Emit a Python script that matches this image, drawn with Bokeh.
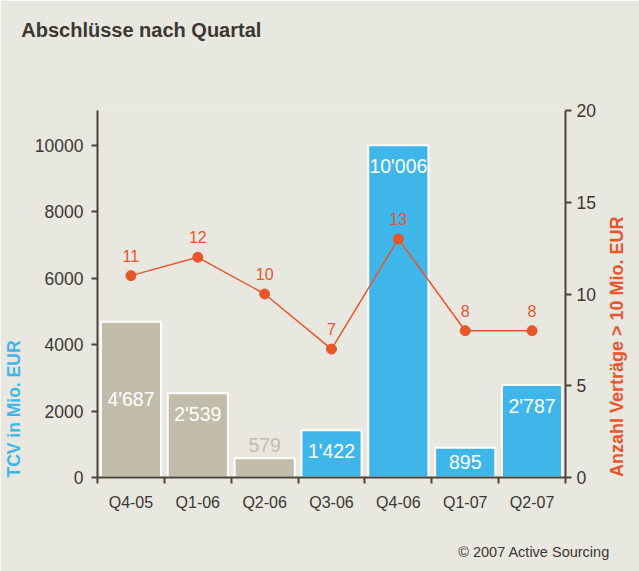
import numpy as np
from bokeh.plotting import figure
from bokeh.models import (Range1d, LinearAxis, FixedTicker, ColumnDataSource)
from bokeh.core.properties import value
from bokeh.embed import file_html
from bokeh.resources import INLINE

# ---- data ----
quarters = ["Q4-05", "Q1-06", "Q2-06", "Q3-06", "Q4-06", "Q1-07", "Q2-07"]
tcv = [4687, 2539, 579, 1422, 10006, 895, 2787]
contracts = [11, 12, 10, 7, 13, 8, 8]
left_ticks = [0, 2000, 4000, 6000, 8000, 10000]
right_ticks = [0, 5, 10, 15, 20]
title = "Abschlüsse nach Quartal"
left_label = "TCV in Mio. EUR"
right_label = "Anzahl Verträge > 10 Mio. EUR"
credit = "© 2007 Active Sourcing"

# ---- styles ----
BG = "#E8E7E0"
GRAY = "#C2BDAA"
BLUE = "#3FB6EA"
ORANGE = "#E9552A"
AXIS = "#4A4338"
TEXT = "#3B3832"
FONT = "Liberation Sans"
bar_colors = [GRAY, GRAY, GRAY, BLUE, BLUE, BLUE, BLUE]
bar_label_colors = ["white", "white", GRAY, "white", "white", "white", "white"]
bar_label_offsets = [77, 21, -13, 21, 21, 14, 21]  # px below bar top

n = len(quarters)
xc = np.arange(n) + 0.5
Y_MAX = 11050

W, H = 639, 571
FL, FR, FT, FB = 97, 567, 110, 477  # frame edges in pixels


def px_to_x(px):
    return (px - FL) / (FR - FL) * n


def px_to_y(py, top):
    return (FB - py) / (FB - FT) * top


p = figure(width=W, height=H, output_backend="svg", toolbar_location=None,
           x_range=Range1d(0, n), y_range=Range1d(0, Y_MAX),
           min_border_left=FL, min_border_right=W - FR, min_border_top=FT,
           min_border_bottom=H - FB)
p.background_fill_color = BG
p.border_fill_color = BG
p.outline_line_color = None
p.grid.visible = False
p.xaxis.visible = False
p.yaxis.visible = False

p.extra_y_ranges = {"count": Range1d(0, 20)}


def style_axis(ax, size="17.5px"):
    ax.axis_line_color = AXIS
    ax.axis_line_width = 2
    ax.major_tick_line_color = AXIS
    ax.major_tick_line_width = 2
    ax.major_tick_out = 6
    ax.major_tick_in = 0
    ax.minor_tick_line_color = None
    ax.major_label_text_font = FONT
    ax.major_label_text_font_size = size
    ax.major_label_text_color = TEXT


def text_axis(pos, text, standoff, color, size, bold=True, orientation="horizontal", **kw):
    ax = LinearAxis(ticker=FixedTicker(ticks=[pos], minor_ticks=[]), **kw)
    ax.major_label_overrides = {float(pos): text}
    ax.axis_line_color = None
    ax.major_tick_line_color = None
    ax.minor_tick_line_color = None
    ax.major_tick_out = 0
    ax.major_tick_in = 0
    ax.major_label_standoff = standoff
    ax.major_label_text_font = FONT
    ax.major_label_text_font_size = size
    ax.major_label_text_font_style = "bold" if bold else "normal"
    ax.major_label_text_color = color
    ax.major_label_text_line_height = 1.0
    ax.major_label_orientation = orientation
    return ax


# left axis
la = LinearAxis(ticker=FixedTicker(ticks=left_ticks, minor_ticks=[]))
style_axis(la)
la.major_label_standoff = 8
p.add_layout(la, "left")

# right axis
ra = LinearAxis(y_range_name="count", ticker=FixedTicker(ticks=right_ticks, minor_ticks=[]))
style_axis(ra)
ra.major_label_standoff = 5
p.add_layout(ra, "right")

# bottom axis: labels at centers, ticks at boundaries (minor ticks)
ba = LinearAxis(ticker=FixedTicker(ticks=list(xc), minor_ticks=list(range(n + 1))))
style_axis(ba, "16px")
ba.major_label_overrides = {float(x): q for x, q in zip(xc, quarters)}
ba.major_tick_line_color = None
ba.major_tick_out = 0
ba.minor_tick_line_color = AXIS
ba.minor_tick_line_width = 2
ba.minor_tick_out = 6
ba.minor_tick_in = 0
ba.major_label_standoff = 10
p.add_layout(ba, "below")

# side / title / credit texts placed as outer axes
p.add_layout(text_axis(px_to_y(408.5, Y_MAX), left_label, 8, BLUE, "17.5px",
                       orientation="vertical"), "left")
p.add_layout(text_axis(px_to_y(476.5, 20), right_label, 18, ORANGE, "18px",
                       orientation=np.pi / 2, y_range_name="count"), "right")
p.add_layout(text_axis(px_to_x(141), title, 70, TEXT, "20px"), "above")
p.add_layout(text_axis(px_to_x(535.5), credit, 30, TEXT, "14.5px", bold=False), "below")

# bars
src = ColumnDataSource(dict(
    x=xc, top=tcv, color=bar_colors,
    label=[f"{v:,}".replace(",", "'") for v in tcv],
    lcolor=bar_label_colors, off=bar_label_offsets))
p.vbar(x="x", top="top", width=0.9, bottom=0, source=src, fill_color="color",
       line_color="white", line_width=2)
p.text(x="x", y="top", text="label", source=src, text_color="lcolor",
       y_offset="off", text_align="center", text_baseline="middle",
       text_font=value(FONT), text_font_size="19.5px")

# line
lsrc = ColumnDataSource(dict(x=xc, y=contracts, label=[str(c) for c in contracts]))
p.line(x="x", y="y", source=lsrc, y_range_name="count", line_color=ORANGE, line_width=1.5)
p.scatter(x="x", y="y", source=lsrc, y_range_name="count", size=10,
          fill_color=ORANGE, line_color=ORANGE)
p.text(x="x", y="y", text="label", source=lsrc, y_range_name="count",
       text_color=ORANGE, y_offset=-20, text_align="center", text_baseline="middle",
       text_font=value(FONT), text_font_size="16px")

open("out.html", "w").write(file_html(p, INLINE))
